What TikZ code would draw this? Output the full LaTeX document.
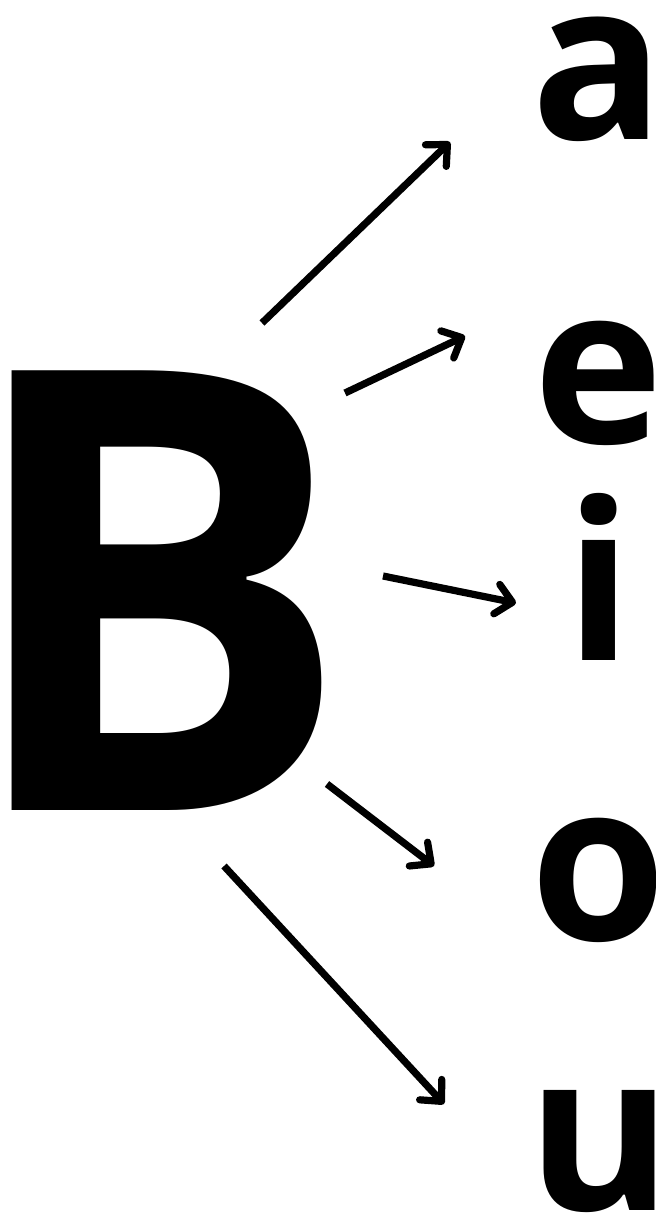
\documentclass[tikz,border=0pt]{standalone}
\usepackage{fontspec}
\setmainfont{Open Sans}
\usetikzlibrary{arrows.meta}
\tikzset{
  vowel/.style={font=\fontsize{110}{110}\selectfont\bfseries,inner sep=0pt,anchor=base},
  arr/.style={-{Straight Barb[length=8pt,width=15pt,round]},line width=3.6pt},
}
\begin{document}
\begin{tikzpicture}[x=0.5pt,y=-0.5pt]
    \useasboundingbox (0,0) rectangle (656,1214);
    \node[inner sep=0pt,anchor=base,xscale=0.95,font=\fontsize{308}{308}\selectfont\bfseries] (B) at (156,810) {B};
    \node[vowel] (a) at (598,140) {a};
    \node[vowel] (e) at (598,443) {e};
    \node[vowel] (i) at (599,660) {i};
    \node[vowel] (o) at (599,940) {o};
    \node[vowel] (u) at (600,1210) {u};
    % arrow ends
    \coordinate (Ba) at (262,323); \coordinate (ta) at (450,142);
    \coordinate (Be) at (345,393); \coordinate (te) at (465,336);
    \coordinate (Bi) at (383,576); \coordinate (ti) at (516,603);
    \coordinate (Bo) at (327,784); \coordinate (to) at (434,866);
    \coordinate (Bu) at (224,866); \coordinate (tu) at (444,1104);
    \draw[arr] (Ba) -- (ta);
    \draw[arr] (Be) -- (te);
    \draw[arr] (Bi) -- (ti);
    \draw[arr] (Bo) -- (to);
    \draw[arr] (Bu) -- (tu);
\end{tikzpicture}
\end{document}
